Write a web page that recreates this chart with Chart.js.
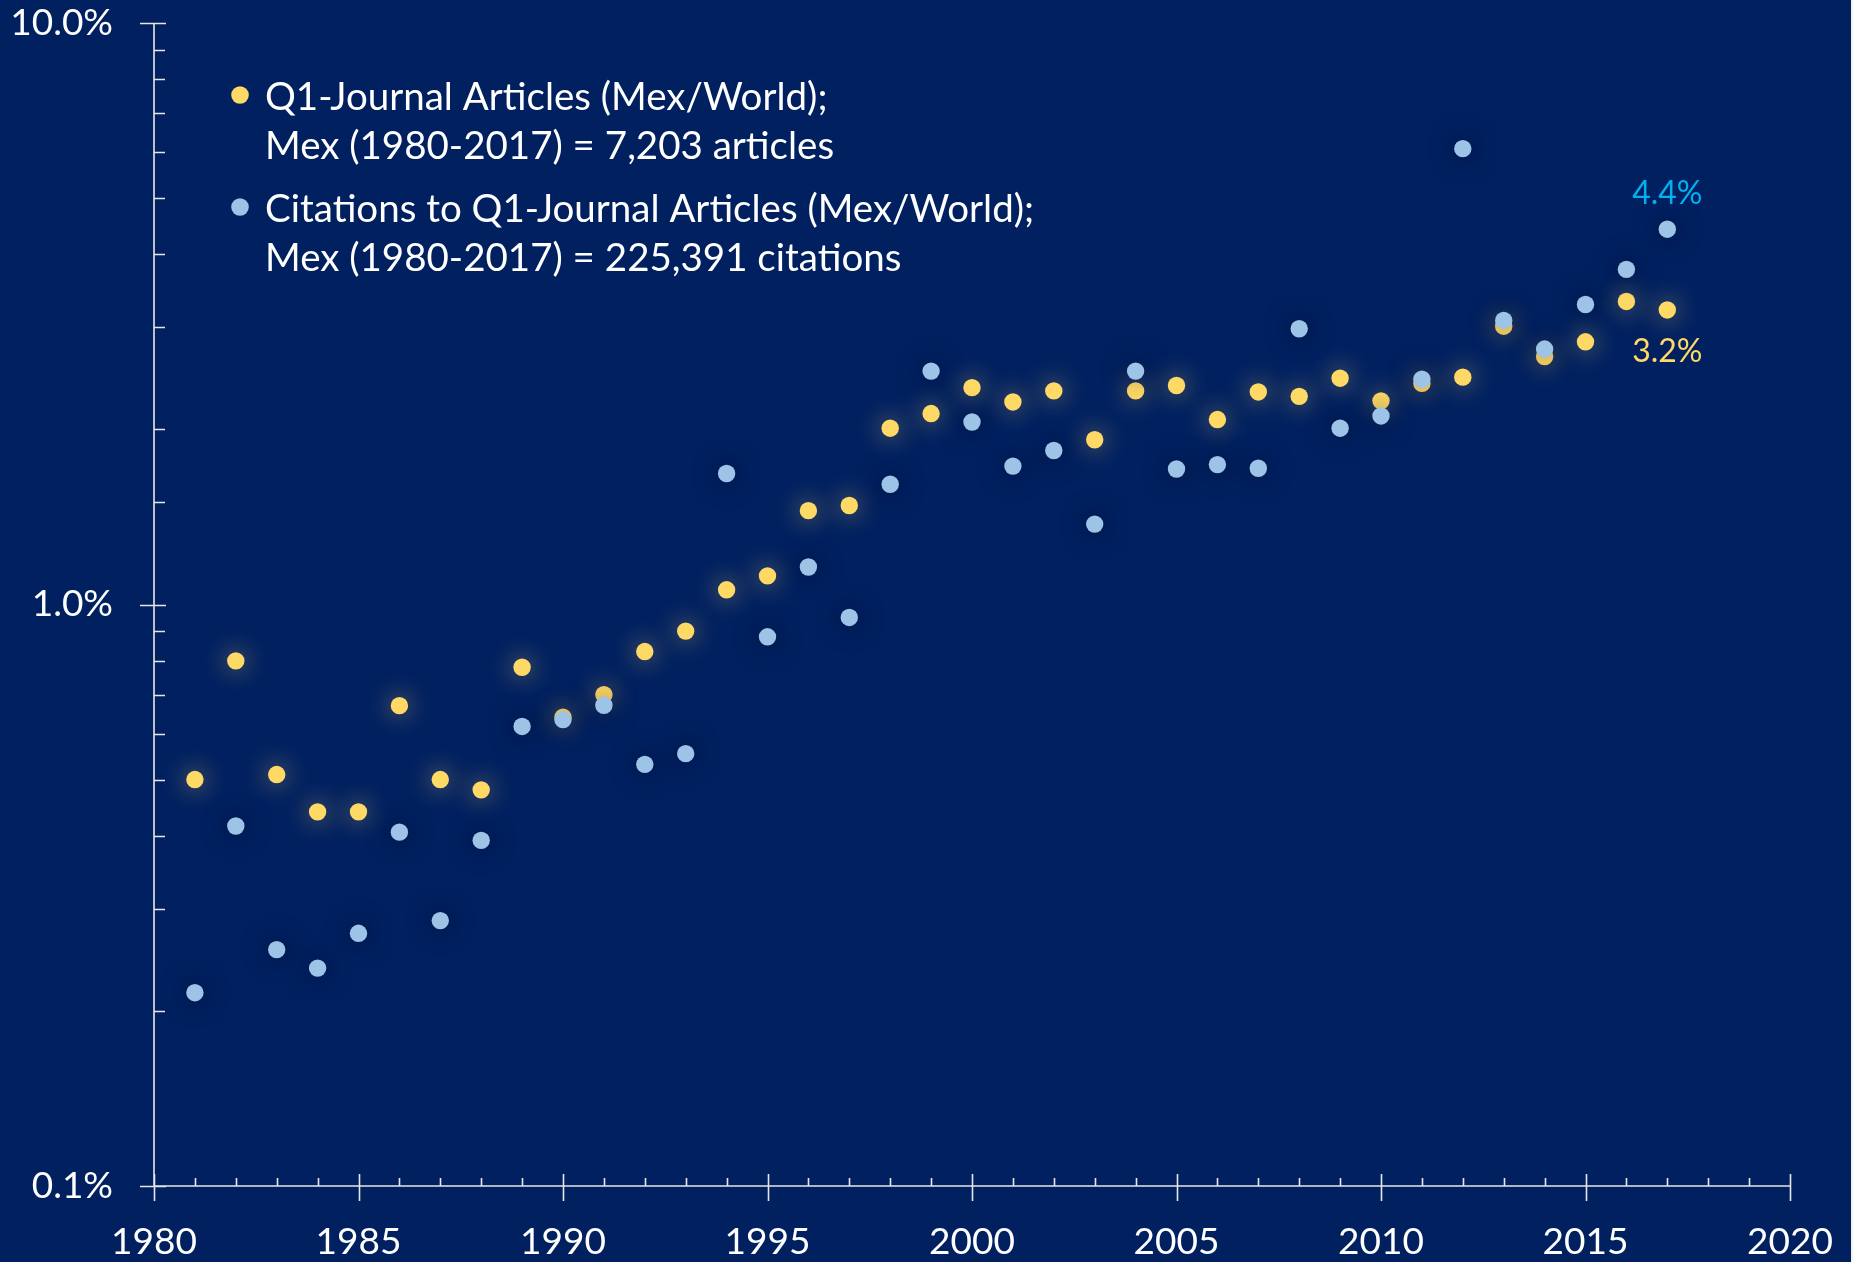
<!DOCTYPE html>
<html>
<head>
<meta charset="utf-8">
<script src="https://cdn.jsdelivr.net/npm/chart.js@4"></script>
<style>
  html, body { margin: 0; padding: 0; background: #F2F2F2; }
  #wrap { width: 1851px; height: 1262px; position: relative; background: #002060; }
</style>
</head>
<body>
<div id="wrap"><canvas id="chart"></canvas></div>
<script>
// Years on the x axis
const years = [1981, 1982, 1983, 1984, 1985, 1986, 1987, 1988, 1989, 1990,
  1991, 1992, 1993, 1994, 1995, 1996, 1997, 1998, 1999, 2000,
  2001, 2002, 2003, 2004, 2005, 2006, 2007, 2008, 2009, 2010,
  2011, 2012, 2013, 2014, 2015, 2016, 2017];

// Q1-journal articles, Mex/World share (%)
const articleShare = [0.50, 0.80, 0.51, 0.44, 0.44, 0.67, 0.50, 0.48, 0.78, 0.64,
  0.70, 0.83, 0.90, 1.06, 1.12, 1.45, 1.48, 2.01, 2.13, 2.36,
  2.23, 2.33, 1.92, 2.33, 2.38, 2.08, 2.32, 2.28, 2.45, 2.24,
  2.40, 2.46, 3.01, 2.67, 2.83, 3.32, 3.21];

// Citations to Q1-journal articles, Mex/World share (%)
const citationShare = [0.215, 0.416, 0.255, 0.237, 0.272, 0.406, 0.286, 0.393, 0.617, 0.634,
  0.671, 0.531, 0.554, 1.68, 0.88, 1.16, 0.95, 1.61, 2.52, 2.06,
  1.73, 1.84, 1.375, 2.52, 1.71, 1.74, 1.715, 2.98, 2.01, 2.11,
  2.44, 6.08, 3.08, 2.75, 3.28, 3.77, 4.42];

const seriesLabels = [
  ['Q1-Journal Articles (Mex/World);', 'Mex (1980-2017) = 7,203 articles'],
  ['Citations to Q1-Journal Articles (Mex/World);', 'Mex (1980-2017) = 225,391 citations']
];

const yTickLabels = [0.1, 1, 10];
const xTickLabels = [1980, 1985, 1990, 1995, 2000, 2005, 2010, 2015, 2020];

const YELLOW = '#FFD966';
const LIGHT_BLUE = '#9DC3E6';
const CYAN = '#00B0F0';
const AXIS = '#E6E6E6';
const FONT = 'Lato';

function isPow10(v) {
  const l = Math.log10(v);
  return Math.abs(l - Math.round(l)) < 1e-6;
}

// soft glow behind the markers
const glowPlugin = {
  id: 'glow',
  beforeDatasetDraw(chart, args) {
    const ds = chart.data.datasets[args.index];
    chart.ctx.save();
    chart.ctx.shadowColor = ds.glowColor;
    chart.ctx.shadowBlur = 24;
  },
  afterDatasetDraw(chart) {
    chart.ctx.restore();
  }
};

// axis lines, inside minor ticks and crossing major ticks
const axesPlugin = {
  id: 'axesDraw',
  afterDraw(chart) {
    const ctx = chart.ctx;
    const { left, right, top, bottom } = chart.chartArea;
    const xs = chart.scales.x, ys = chart.scales.y;
    ctx.save();
    ctx.strokeStyle = AXIS;
    ctx.lineWidth = 1.6;
    ctx.beginPath();
    ctx.moveTo(left, top);
    ctx.lineTo(left, bottom);
    ctx.moveTo(left, bottom);
    ctx.lineTo(right, bottom);
    // y ticks
    ys.ticks.forEach(t => {
      const y = Math.round(ys.getPixelForValue(t.value)) + 0.5;
      if (isPow10(t.value)) {
        ctx.moveTo(left - 14, y);
        ctx.lineTo(left + 12, y);
      } else {
        ctx.moveTo(left, y);
        ctx.lineTo(left + 11, y);
      }
    });
    // x ticks
    xs.ticks.forEach(t => {
      const x = Math.round(xs.getPixelForValue(t.value)) + 0.5;
      if (t.value % 5 === 0) {
        ctx.moveTo(x, bottom - 12);
        ctx.lineTo(x, bottom + 15);
      } else {
        ctx.moveTo(x, bottom - 8);
        ctx.lineTo(x, bottom);
      }
    });
    ctx.stroke();
    ctx.restore();
  }
};

// legend inside the plot and end-of-series value labels
const notesPlugin = {
  id: 'notes',
  afterDraw(chart) {
    const ctx = chart.ctx;
    ctx.save();
    ctx.font = '38.5px ' + FONT;
    ctx.textBaseline = 'alphabetic';
    ctx.textAlign = 'left';
    const colors = [YELLOW, LIGHT_BLUE];
    const rows = [110, 222];
    seriesLabels.forEach((lines, i) => {
      ctx.fillStyle = colors[i];
      ctx.beginPath();
      ctx.arc(240, rows[i] - 15, 8.8, 0, Math.PI * 2);
      ctx.fill();
      ctx.fillStyle = '#FFFFFF';
      lines.forEach((line, j) => ctx.fillText(line, 265, rows[i] + j * 49));
    });

    // last values
    const xs = chart.scales.x, ys = chart.scales.y;
    const lastYear = years[years.length - 1];
    const lx = xs.getPixelForValue(lastYear);
    ctx.font = '32px ' + FONT;
    ctx.textAlign = 'center';
    const cVal = citationShare[citationShare.length - 1];
    const aVal = articleShare[articleShare.length - 1];
    ctx.fillStyle = CYAN;
    ctx.fillText(cVal.toFixed(1) + '%', lx, ys.getPixelForValue(cVal) - 25);
    ctx.fillStyle = YELLOW;
    ctx.fillText(aVal.toFixed(1) + '%', lx, ys.getPixelForValue(aVal) + 52);
    ctx.restore();
  }
};

new Chart(document.getElementById('chart'), {
  type: 'scatter',
  data: {
    datasets: [
      {
        label: seriesLabels[1].join(' '),
        data: years.map((y, i) => ({ x: y, y: citationShare[i] })),
        backgroundColor: LIGHT_BLUE,
        borderWidth: 0,
        pointRadius: 8.7,
        glowColor: 'rgba(0, 8, 30, 0.65)',
        order: 0
      },
      {
        label: seriesLabels[0].join(' '),
        data: years.map((y, i) => ({ x: y, y: articleShare[i] })),
        backgroundColor: YELLOW,
        borderWidth: 0,
        pointRadius: 8.7,
        glowColor: 'rgba(255, 217, 102, 0.6)',
        order: 1
      }
    ]
  },
  options: {
    responsive: true,
    maintainAspectRatio: false,
    animation: false,
    layout: { padding: { top: 23, right: 61, left: 0, bottom: 0 } },
    plugins: {
      legend: { display: false },
      tooltip: { enabled: false }
    },
    scales: {
      x: {
        type: 'linear',
        min: 1980,
        max: 2020,
        grid: { display: false, drawTicks: false },
        border: { display: false },
        afterFit: s => { s.height = 76; s.paddingLeft = 0; s.paddingRight = 0; },
        ticks: {
          stepSize: 1,
          autoSkip: false,
          maxRotation: 0,
          padding: 34,
          color: '#FFFFFF',
          font: { family: FONT, size: 37 },
          callback: v => xTickLabels.includes(v) ? String(v) : ''
        }
      },
      y: {
        type: 'logarithmic',
        min: 0.1,
        max: 10,
        grid: { display: false, drawTicks: false },
        border: { display: false },
        afterFit: s => { s.width = 154; s.paddingTop = 0; s.paddingBottom = 0; },
        ticks: {
          autoSkip: false,
          padding: 41,
          color: '#FFFFFF',
          font: { family: FONT, size: 37 },
          callback: v => yTickLabels.some(t => Math.abs(t - v) < 1e-9) ? v.toFixed(1) + '%' : ''
        }
      }
    }
  },
  plugins: [glowPlugin, axesPlugin, notesPlugin]
});
</script>
</body>
</html>
